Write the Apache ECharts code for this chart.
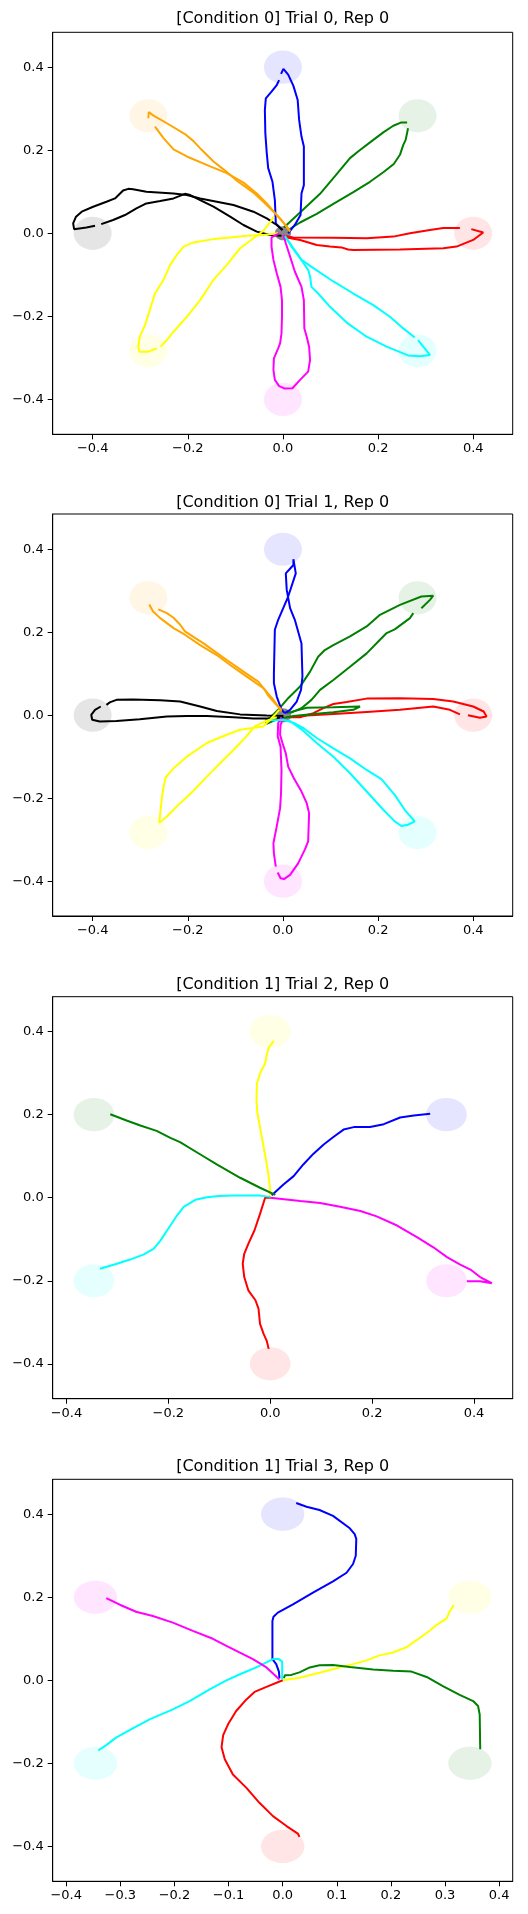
<!DOCTYPE html>
<html>
<head>
<meta charset="utf-8">
<title>Reaching trajectories</title>
<script src="https://cdn.jsdelivr.net/npm/echarts@6/dist/echarts.min.js"></script>
<style>
  html, body { margin: 0; padding: 0; background: #fff; }
  #chart { width: 528px; height: 1914px; }
</style>
</head>
<body>
<div id="chart"></div>
<script>
// target centres (radius 0.4 around the start) and their colours
const targets8 = [[0.4, 0], [0.283, 0.283], [0, 0.4], [-0.283, 0.283], [-0.4, 0], [-0.283, -0.283], [0, -0.4], [0.283, -0.283]]
const colors8 = ['red', 'green', 'blue', 'orange', 'black', 'yellow', 'magenta', 'cyan']
const targets6 = [[0, 0.4], [0.346, 0.2], [0.346, -0.2], [0, -0.4], [-0.346, -0.2], [-0.346, 0.2]]
const colorsTrial2 = ['yellow', 'blue', 'magenta', 'red', 'cyan', 'green']
const colorsTrial3 = ['blue', 'yellow', 'green', 'red', 'cyan', 'magenta']
const targetRadius = 0.04
const startRadius = 0.017

const ticks8 = [-0.4, -0.2, 0, 0.2, 0.4]
const ticks4 = [-0.4, -0.3, -0.2, -0.1, 0, 0.1, 0.2, 0.3, 0.4]

// hand trajectories, null = break in the trace
// trial 0
const t0Red = [[0.001, -0.006], [0.022, -0.010], [0.106, -0.011], [0.176, -0.012], [0.232, -0.008], [0.267, 0.000], [0.309, 0.008], [0.337, 0.013], [0.372, 0.013], null,
  [0.396, 0.010], [0.421, 0.002], [0.400, -0.016], [0.365, -0.032], [0.337, -0.036], [0.246, -0.039], [0.148, -0.040], [0.137, -0.039], [0.123, -0.034], [0.099, -0.032], [0.071, -0.028], [0.036, -0.016], [0.008, -0.010]]
const t0Green = [[0.002, 0.014], [0.036, 0.050], [0.078, 0.095], [0.109, 0.137], [0.141, 0.181], [0.158, 0.197], [0.190, 0.225], [0.211, 0.243], [0.232, 0.259], [0.249, 0.267], [0.261, 0.267], null,
  [0.263, 0.253], [0.258, 0.225], [0.253, 0.213], [0.246, 0.189], [0.233, 0.167], [0.211, 0.147], [0.183, 0.124], [0.148, 0.099], [0.106, 0.071], [0.071, 0.047], [0.036, 0.026], [0.011, 0.008]]
const t0Blue = [[-0.001, 0.008], [-0.015, 0.024], [-0.017, 0.080], [-0.022, 0.124], [-0.031, 0.157], [-0.034, 0.193], [-0.037, 0.241], [-0.038, 0.297], [-0.036, 0.325], [-0.024, 0.341], [-0.013, 0.357], [-0.008, 0.369], null,
  [-0.004, 0.384], [0.001, 0.396], [0.011, 0.382], [0.022, 0.355], [0.031, 0.321], [0.034, 0.273], [0.039, 0.233], [0.044, 0.209], [0.044, 0.116], [0.039, 0.096], [0.037, 0.044], [0.025, 0.020], [0.011, 0.000]]
const t0Orange = [[0.015, 0.006], [-0.006, 0.036], [-0.034, 0.068], [-0.062, 0.098], [-0.094, 0.124], [-0.125, 0.154], [-0.146, 0.173], [-0.171, 0.201], [-0.188, 0.222], [-0.206, 0.239], [-0.244, 0.265], [-0.273, 0.284], [-0.282, 0.292], [-0.283, 0.277], null,
  [-0.269, 0.257], [-0.251, 0.229], [-0.230, 0.202], [-0.202, 0.185], [-0.153, 0.161], [-0.118, 0.145], [-0.083, 0.122], [-0.055, 0.096], [-0.034, 0.072], [-0.013, 0.044], [0.008, 0.016], [0.015, 0.004]]
const t0Black = [[-0.003, -0.006], [-0.027, -0.004], [-0.055, 0.004], [-0.083, 0.020], [-0.111, 0.040], [-0.146, 0.064], [-0.174, 0.080], [-0.195, 0.092], [-0.206, 0.095], [-0.230, 0.084], [-0.258, 0.078], [-0.287, 0.072], [-0.308, 0.060], [-0.332, 0.044], [-0.357, 0.032], [-0.382, 0.022], null,
  [-0.395, 0.018], [-0.413, 0.014], [-0.439, 0.010], [-0.441, 0.024], [-0.435, 0.040], [-0.423, 0.052], [-0.399, 0.064], [-0.371, 0.076], [-0.353, 0.084], [-0.336, 0.103], [-0.325, 0.107], [-0.315, 0.106], [-0.287, 0.100], [-0.230, 0.096], [-0.202, 0.092], [-0.174, 0.084], [-0.139, 0.076], [-0.104, 0.068], [-0.062, 0.052], [-0.034, 0.036], [-0.013, 0.020], [-0.001, 0.008]]
const t0Yellow = [[-0.010, 0.000], [-0.041, -0.004], [-0.076, -0.006], [-0.111, -0.010], [-0.146, -0.014], [-0.188, -0.022], [-0.209, -0.032], [-0.223, -0.052], [-0.237, -0.076], [-0.251, -0.112], [-0.269, -0.145], [-0.280, -0.185], [-0.290, -0.221], [-0.301, -0.249], [-0.304, -0.273], [-0.302, -0.285], [-0.283, -0.285], [-0.265, -0.277], null,
  [-0.257, -0.273], [-0.244, -0.257], [-0.230, -0.237], [-0.202, -0.201], [-0.174, -0.161], [-0.146, -0.112], [-0.118, -0.076], [-0.090, -0.036], [-0.062, -0.012], [-0.041, 0.006], [-0.024, 0.031], [-0.019, 0.040]]
const t0Magenta = [[-0.008, 0.000], [-0.024, -0.010], [-0.024, -0.032], [-0.020, -0.064], [-0.013, -0.096], [-0.005, -0.129], [-0.002, -0.161], [-0.002, -0.201], [-0.003, -0.241], [-0.006, -0.265], [-0.010, -0.277], [-0.019, -0.301], [-0.020, -0.329], [-0.017, -0.353], [-0.008, -0.368], [0.004, -0.374], [0.020, -0.373], [0.036, -0.353], [0.053, -0.333], [0.057, -0.305], [0.055, -0.273], [0.050, -0.249], [0.045, -0.229], [0.044, -0.161], [0.039, -0.129], [0.025, -0.092], [0.015, -0.056], [0.006, -0.024], [0.001, -0.004]]
const t0Cyan = [[0.004, -0.006], [0.022, -0.036], [0.039, -0.064], [0.064, -0.084], [0.106, -0.116], [0.148, -0.145], [0.190, -0.173], [0.225, -0.201], [0.253, -0.229], [0.277, -0.251], null,
  [0.284, -0.257], [0.295, -0.273], [0.309, -0.293], [0.288, -0.296], [0.263, -0.294], [0.218, -0.273], [0.176, -0.249], [0.134, -0.215], [0.099, -0.177], [0.074, -0.145], [0.060, -0.129], [0.057, -0.104], [0.053, -0.088], [0.036, -0.060], [0.018, -0.032], [0.006, -0.010]]

// trial 1
const t1Red = [[0.008, -0.005], [0.036, -0.005], [0.064, 0.005], [0.085, 0.017], [0.106, 0.027], [0.134, 0.032], [0.176, 0.040], [0.246, 0.041], [0.316, 0.039], [0.358, 0.033], [0.400, 0.021], [0.422, 0.009], [0.428, -0.003], [0.414, -0.006], [0.389, 0.000], null,
  [0.372, 0.002], [0.351, 0.013], [0.316, 0.021], [0.246, 0.013], [0.176, 0.008], [0.106, 0.003], [0.050, -0.001], [0.015, -0.005]]
const t1Green = [[0.008, 0.005], [0.050, 0.018], [0.106, 0.019], [0.162, 0.021], [0.148, 0.013], [0.106, 0.007], [0.064, 0.003], [0.022, -0.002], [-0.013, -0.010], [-0.034, -0.021], [-0.036, -0.013], [-0.026, -0.005], [-0.010, 0.013], [0.011, 0.041], [0.036, 0.069], [0.057, 0.105], [0.074, 0.141], [0.088, 0.157], [0.106, 0.169], [0.141, 0.190], [0.176, 0.214], [0.204, 0.242], [0.246, 0.266], [0.291, 0.286], [0.316, 0.288], [0.309, 0.278], [0.291, 0.258], null,
  [0.274, 0.246], [0.267, 0.234], [0.235, 0.207], [0.218, 0.198], [0.204, 0.182], [0.176, 0.149], [0.141, 0.117], [0.106, 0.085], [0.078, 0.061], [0.060, 0.037], [0.039, 0.017], [0.015, 0.005]]
const t1Blue = [[0.004, 0.005], [-0.003, 0.013], [-0.013, 0.045], [-0.019, 0.077], [-0.019, 0.101], [-0.017, 0.206], [-0.010, 0.230], [0.011, 0.286], [0.027, 0.342], [0.022, 0.376], [0.022, 0.362], [0.006, 0.342], [0.008, 0.302], [0.015, 0.258], [0.025, 0.230], [0.039, 0.173], [0.041, 0.093], [0.038, 0.061], [0.029, 0.033], [0.015, 0.013], [0.004, 0.005]]
const t1Orange = [[-0.003, 0.009], [-0.010, 0.021], [-0.020, 0.037], [-0.041, 0.065], [-0.076, 0.093], [-0.111, 0.121], [-0.139, 0.145], [-0.174, 0.169], [-0.206, 0.194], [-0.230, 0.210], [-0.258, 0.234], [-0.273, 0.250], [-0.281, 0.267], null,
  [-0.262, 0.255], [-0.244, 0.246], [-0.230, 0.235], [-0.216, 0.218], [-0.206, 0.202], [-0.167, 0.173], [-0.118, 0.133], [-0.083, 0.105], [-0.052, 0.081], [-0.038, 0.061], [-0.031, 0.047], [-0.017, 0.029], [-0.003, 0.013]]
const t1Black = [[0.001, -0.002], [-0.034, -0.001], [-0.090, 0.002], [-0.139, 0.010], [-0.174, 0.021], [-0.216, 0.033], [-0.258, 0.036], [-0.315, 0.038], [-0.350, 0.037], [-0.364, 0.031], [-0.371, 0.025], null,
  [-0.383, 0.021], [-0.395, 0.013], [-0.403, 0.001], [-0.401, -0.011], [-0.385, -0.015], [-0.350, -0.014], [-0.301, -0.010], [-0.244, -0.003], [-0.202, -0.002], [-0.160, -0.002], [-0.104, -0.005], [-0.062, -0.008], [-0.020, -0.008], [0.001, -0.005]]
const t1Yellow = [[-0.008, 0.013], [-0.017, 0.001], [-0.041, -0.027], [-0.090, -0.035], [-0.118, -0.047], [-0.160, -0.067], [-0.202, -0.100], [-0.230, -0.128], [-0.246, -0.149], [-0.251, -0.172], [-0.255, -0.204], [-0.260, -0.259], [-0.244, -0.244], [-0.216, -0.212], [-0.188, -0.182], [-0.160, -0.148], [-0.132, -0.116], [-0.104, -0.084], [-0.080, -0.055], [-0.059, -0.027], [-0.034, -0.013], [-0.013, -0.005]]
const t1Magenta = [[-0.003, -0.005], [-0.010, -0.019], [-0.011, -0.051], [-0.005, -0.076], [-0.003, -0.132], [-0.004, -0.188], [-0.006, -0.224], [-0.013, -0.268], [-0.020, -0.308], [-0.019, -0.333], [-0.015, -0.365], null,
  [-0.011, -0.379], [-0.005, -0.393], [0.002, -0.395], [0.015, -0.385], [0.032, -0.357], [0.046, -0.324], [0.053, -0.304], [0.055, -0.236], [0.050, -0.212], [0.039, -0.184], [0.023, -0.152], [0.011, -0.124], [0.006, -0.092], [-0.001, -0.067], [-0.006, -0.047], [-0.005, -0.023], [0.001, -0.007]]
const t1Cyan = [[-0.024, -0.013], [0.001, -0.011], [0.022, -0.018], [0.043, -0.031], [0.071, -0.055], [0.106, -0.080], [0.141, -0.104], [0.176, -0.132], [0.207, -0.154], [0.235, -0.192], [0.256, -0.228], [0.277, -0.256], [0.263, -0.264], [0.249, -0.267], [0.235, -0.256], [0.211, -0.228], [0.176, -0.184], [0.141, -0.140], [0.106, -0.100], [0.071, -0.067], [0.039, -0.034], [0.011, -0.011]]

// trial 2
const t2Yellow = [[0, 0], [0, 0.018], [-0.003, 0.050], [-0.008, 0.090], [-0.013, 0.122], [-0.020, 0.170], [-0.025, 0.202], [-0.027, 0.235], [-0.026, 0.275], [-0.020, 0.299], [-0.010, 0.323], [-0.007, 0.343], [-0.003, 0.361], [0.007, 0.378]]
const t2Blue = [[0.003, 0.006], [0.026, 0.032], [0.046, 0.052], [0.065, 0.080], [0.085, 0.106], [0.105, 0.128], [0.124, 0.146], [0.144, 0.164], [0.164, 0.170], [0.196, 0.170], [0.223, 0.177], [0.255, 0.193], [0.282, 0.198], [0.314, 0.202]]
const t2Magenta = [[0, 0], [0.059, -0.008], [0.098, -0.013], [0.137, -0.022], [0.177, -0.032], [0.209, -0.045], [0.249, -0.067], [0.288, -0.095], [0.321, -0.120], [0.347, -0.143], [0.373, -0.161], [0.393, -0.173], [0.412, -0.191], [0.435, -0.206], [0.412, -0.201], [0.386, -0.201]]
const t2Red = [[0, 0], [-0.010, 0], [-0.020, -0.039], [-0.031, -0.079], [-0.043, -0.111], [-0.051, -0.135], [-0.054, -0.159], [-0.051, -0.191], [-0.043, -0.223], [-0.029, -0.247], [-0.023, -0.267], [-0.020, -0.304], [-0.013, -0.328], [-0.007, -0.344], [-0.003, -0.364]]
const t2Cyan = [[0, 0.002], [-0.020, 0.005], [-0.072, 0.005], [-0.101, 0.004], [-0.124, 0.001], [-0.147, -0.005], [-0.170, -0.022], [-0.183, -0.043], [-0.196, -0.067], [-0.216, -0.104], [-0.229, -0.123], [-0.249, -0.137], [-0.275, -0.149], [-0.301, -0.159], [-0.334, -0.171]]
const t2Green = [[0.010, 0.007], [-0.020, 0.024], [-0.059, 0.048], [-0.105, 0.080], [-0.137, 0.104], [-0.177, 0.134], [-0.196, 0.144], [-0.223, 0.161], [-0.255, 0.174], [-0.282, 0.186], [-0.314, 0.201]]

// trial 3
const t3Blue = [[-0.006, 0.005], [-0.007, 0.021], [-0.012, 0.039], [-0.019, 0.051], [-0.019, 0.143], [-0.017, 0.153], [-0.009, 0.163], [0.019, 0.183], [0.056, 0.211], [0.093, 0.238], [0.118, 0.259], [0.130, 0.280], [0.135, 0.300], [0.136, 0.340], [0.133, 0.352], [0.124, 0.366], [0.093, 0.396], [0.068, 0.410], [0.044, 0.418], [0.025, 0.427]]
const t3Yellow = [[0, 0], [0.031, 0.006], [0.068, 0.018], [0.105, 0.031], [0.130, 0.039], [0.155, 0.048], [0.179, 0.060], [0.204, 0.067], [0.229, 0.080], [0.250, 0.099], [0.272, 0.120], [0.284, 0.133], [0.303, 0.149], [0.309, 0.167], [0.316, 0.181]]
const t3Green = [[0.002, 0.005], [0.004, 0.012], [0.016, 0.013], [0.031, 0.019], [0.050, 0.031], [0.068, 0.036], [0.093, 0.037], [0.124, 0.032], [0.167, 0.026], [0.204, 0.023], [0.238, 0.021], [0.266, 0.008], [0.296, -0.014], [0.327, -0.035], [0.352, -0.050], [0.361, -0.062], [0.364, -0.082], [0.365, -0.166]]
const t3Red = [[0, 0], [-0.030, -0.016], [-0.052, -0.028], [-0.067, -0.046], [-0.086, -0.074], [-0.101, -0.106], [-0.110, -0.132], [-0.113, -0.161], [-0.107, -0.190], [-0.092, -0.227], [-0.067, -0.259], [-0.043, -0.295], [-0.018, -0.327], [0.007, -0.351], [0.028, -0.369], [0.031, -0.377]]
const t3Cyan = [[-0.001, 0.002], [-0.001, 0.022], [-0.001, 0.045], [-0.007, 0.051], [-0.018, 0.051], [-0.030, 0.043], [-0.049, 0.031], [-0.080, 0.014], [-0.104, 0.000], [-0.135, -0.022], [-0.172, -0.050], [-0.203, -0.070], [-0.246, -0.094], [-0.277, -0.116], [-0.308, -0.138], [-0.326, -0.156], [-0.341, -0.169]]
const t3Magenta = [[-0.006, 0.002], [-0.030, 0.031], [-0.055, 0.051], [-0.080, 0.067], [-0.104, 0.083], [-0.129, 0.100], [-0.166, 0.119], [-0.203, 0.139], [-0.240, 0.155], [-0.271, 0.165], [-0.301, 0.182], [-0.326, 0.198]]

const hex = {
  red: '#ff0000', green: '#008000', blue: '#0000ff', orange: '#ffa500',
  black: '#000000', yellow: '#ffff00', magenta: '#ff00ff', cyan: '#00ffff'
}

function rgba(name, a) {
  const h = hex[name]
  const r = parseInt(h.slice(1, 3), 16)
  const g = parseInt(h.slice(3, 5), 16)
  const b = parseInt(h.slice(5, 7), 16)
  return 'rgba(' + r + ',' + g + ',' + b + ',' + a + ')'
}

// split a trace at null entries
function segments(points) {
  const out = [[]]
  points.forEach(p => {
    if (p === null) out.push([])
    else out[out.length - 1].push(p)
  })
  return out.filter(s => s.length > 1)
}

const panels = [
  {
    title: '[Condition 0] Trial 0, Rep 0', titleY: 19, top: 32.3,
    xlim: [-0.484, 0.483], ylim: [-0.484, 0.484], xticks: ticks8,
    targets: targets8, colors: colors8, start: true,
    lines: [t0Red, t0Green, t0Blue, t0Orange, t0Black, t0Yellow, t0Magenta, t0Cyan]
  },
  {
    title: '[Condition 0] Trial 1, Rep 0', titleY: 503, top: 514,
    xlim: [-0.484, 0.483], ylim: [-0.484, 0.485], xticks: ticks8,
    targets: targets8, colors: colors8, start: true,
    lines: [t1Red, t1Green, t1Blue, t1Orange, t1Black, t1Yellow, t1Magenta, t1Cyan]
  },
  {
    title: '[Condition 1] Trial 2, Rep 0', titleY: 985, top: 996.7,
    xlim: [-0.427, 0.476], ylim: [-0.484, 0.484], xticks: ticks8,
    targets: targets6, colors: colorsTrial2, start: false,
    lines: [t2Yellow, t2Blue, t2Magenta, t2Red, t2Cyan, t2Green]
  },
  {
    title: '[Condition 1] Trial 3, Rep 0', titleY: 1467, top: 1479.3,
    xlim: [-0.425, 0.425], ylim: [-0.484, 0.484], xticks: ticks4,
    targets: targets6, colors: colorsTrial3, start: false,
    lines: [t3Blue, t3Yellow, t3Green, t3Red, t3Cyan, t3Magenta]
  }
]

const font = 'DejaVu Sans'
const fmt = v => (Math.abs(v) < 1e-9 ? 0 : v).toFixed(1).replace('-', '\u2212')

function axis(gridIndex, lim, ticks, isX) {
  return {
    type: 'value',
    gridIndex: gridIndex,
    min: lim[0],
    max: lim[1],
    axisLine: { show: true, onZero: false, lineStyle: { color: '#000', width: 1 } },
    axisTick: { show: true, inside: false, length: 5, lineStyle: { color: '#000', width: 1 }, customValues: ticks },
    axisLabel: { show: true, customValues: ticks, formatter: fmt, color: '#000', fontSize: 13, fontFamily: font, margin: isX ? 8 : 9 },
    splitLine: { show: false }
  }
}

const option = {
  animation: false,
  backgroundColor: '#fff',
  title: [],
  grid: [],
  xAxis: [],
  yAxis: [],
  series: []
}

panels.forEach((p, i) => {
  option.title.push({
    text: p.title,
    left: 282.7,
    top: p.titleY,
    textAlign: 'center',
    textVerticalAlign: 'middle',
    padding: 0,
    textStyle: { fontSize: 16, fontWeight: 'normal', fontFamily: font, color: '#000' }
  })
  option.grid.push({
    left: 52.7, top: p.top, width: 460, height: 402,
    show: true, borderColor: '#000', borderWidth: 1, backgroundColor: 'transparent'
  })
  option.xAxis.push(axis(i, p.xlim, p.xticks, true))
  option.yAxis.push(axis(i, p.ylim, ticks8, false))

  // faint target discs
  option.series.push({
    type: 'custom',
    xAxisIndex: i,
    yAxisIndex: i,
    z: 1,
    data: p.targets.map((t, k) => [t[0], t[1], k]),
    renderItem: function (params, api) {
      const c = api.coord([api.value(0), api.value(1)])
      const s = api.size([targetRadius, targetRadius])
      return {
        type: 'ellipse',
        shape: { cx: c[0], cy: c[1], rx: s[0], ry: s[1] },
        style: { fill: rgba(p.colors[api.value(2)], 0.1) }
      }
    }
  })

  if (p.start) {
    option.series.push({
      type: 'custom',
      xAxisIndex: i,
      yAxisIndex: i,
      z: 2,
      data: [[0, 0]],
      renderItem: function (params, api) {
        const c = api.coord([api.value(0), api.value(1)])
        const s = api.size([startRadius, startRadius])
        return {
          type: 'ellipse',
          shape: { cx: c[0], cy: c[1], rx: s[0], ry: s[1] },
          style: { fill: 'rgba(70,70,70,0.65)' }
        }
      }
    })
  }

  p.lines.forEach((trace, k) => {
    segments(trace).forEach(seg => {
      option.series.push({
        type: 'line',
        xAxisIndex: i,
        yAxisIndex: i,
        z: 3,
        data: seg,
        showSymbol: false,
        symbol: 'none',
        smooth: false,
        silent: true,
        lineStyle: { color: hex[p.colors[k]], width: 2 }
      })
    })
  })
})

const myChart = echarts.init(document.getElementById('chart'), null, { renderer: 'canvas' })
myChart.setOption(option)
</script>
</body>
</html>
